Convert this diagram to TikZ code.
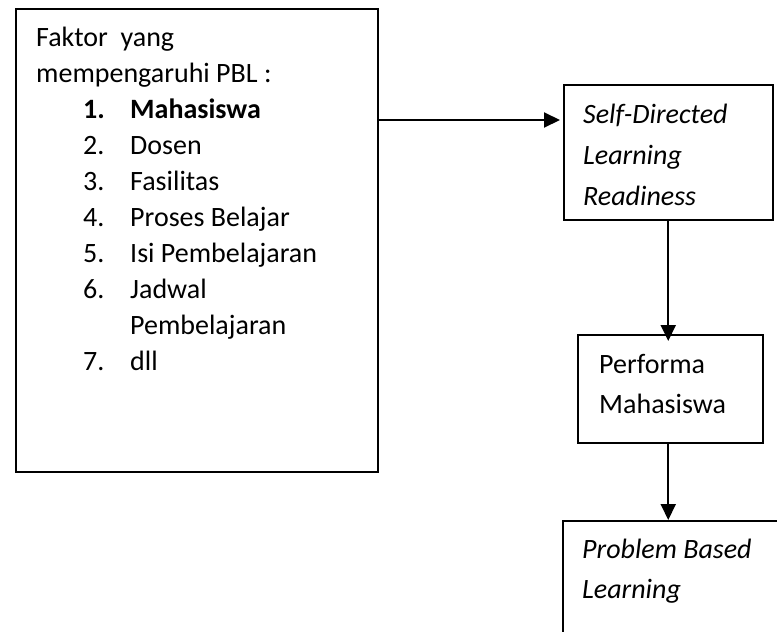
\documentclass[tikz,border=0pt]{standalone}
\usepackage{fontspec}
\setmainfont{Carlito}
\usetikzlibrary{arrows.meta}
\begin{document}
\begin{tikzpicture}[x=1pt,y=-1pt,
  box/.style={draw, line width=1.5pt, inner sep=0pt, anchor=north west},
  txt/.style={anchor=base west, inner sep=0pt, font=\fontsize{28}{34}\selectfont},
  itxt/.style={txt, font=\fontsize{28}{34}\selectfont\itshape},
  conn/.style={line width=2pt, -{Triangle[length=16pt,width=15pt]}}]
\clip (0,0) rectangle (777,632);
% boxes
\node[box, line width=2pt, minimum width=362.5pt, minimum height=463pt] (fak) at (14.5,8) {};
\node[box, minimum width=209pt, minimum height=135pt] (sdl) at (563,84) {};
\node[box, minimum width=185pt, minimum height=108pt] (perf) at (577,334) {};
\node[box, minimum width=240pt, minimum height=140pt] (pbl) at (562,520) {};
% texts in the factor box
\node[txt] (f1) at (36,46) {Faktor\ \ yang};
\node[txt] (f2) at (36,82) {mempengaruhi PBL :};
\node[txt] (n1) at (83,118) {\bfseries 1.};
\node[txt] (i1) at (130,118) {\bfseries Mahasiswa};
\node[txt] (n2) at (83,154) {2.};
\node[txt] (i2) at (130,154) {Dosen};
\node[txt] (n3) at (83,190) {3.};
\node[txt] (i3) at (130,190) {Fasilitas};
\node[txt] (n4) at (83,226) {4.};
\node[txt] (i4) at (130,226) {Proses Belajar};
\node[txt] (n5) at (83,262) {5.};
\node[txt] (i5) at (130,262) {Isi Pembelajaran};
\node[txt] (n6) at (83,298) {6.};
\node[txt] (i6) at (130,298) {Jadwal};
\node[txt] (i6b) at (130,334) {Pembelajaran};
\node[txt] (n7) at (83,370) {7.};
\node[txt] (i7) at (130,370) {dll};
% texts in the other boxes
\node[itxt] (s1) at (583,123) {Self-Directed};
\node[itxt] (s2) at (583,164) {Learning};
\node[itxt] (s3) at (583,205) {Readiness};
\node[txt] (p1) at (599,373) {Performa};
\node[txt] (p2) at (599,413) {Mahasiswa};
\node[itxt] (b1) at (582,558) {Problem Based};
\node[itxt] (b2) at (582,598) {Learning};
% connectors
\coordinate (hy) at (0,120);
\draw[conn] (fak.east |- hy) -- ([xshift=-3pt]sdl.west |- hy);
\draw[conn] (sdl.south) -- ([yshift=-7pt]sdl.south |- perf.north);
\draw[conn] (sdl.south |- perf.south) -- (sdl.south |- pbl.north);
\end{tikzpicture}
\end{document}
